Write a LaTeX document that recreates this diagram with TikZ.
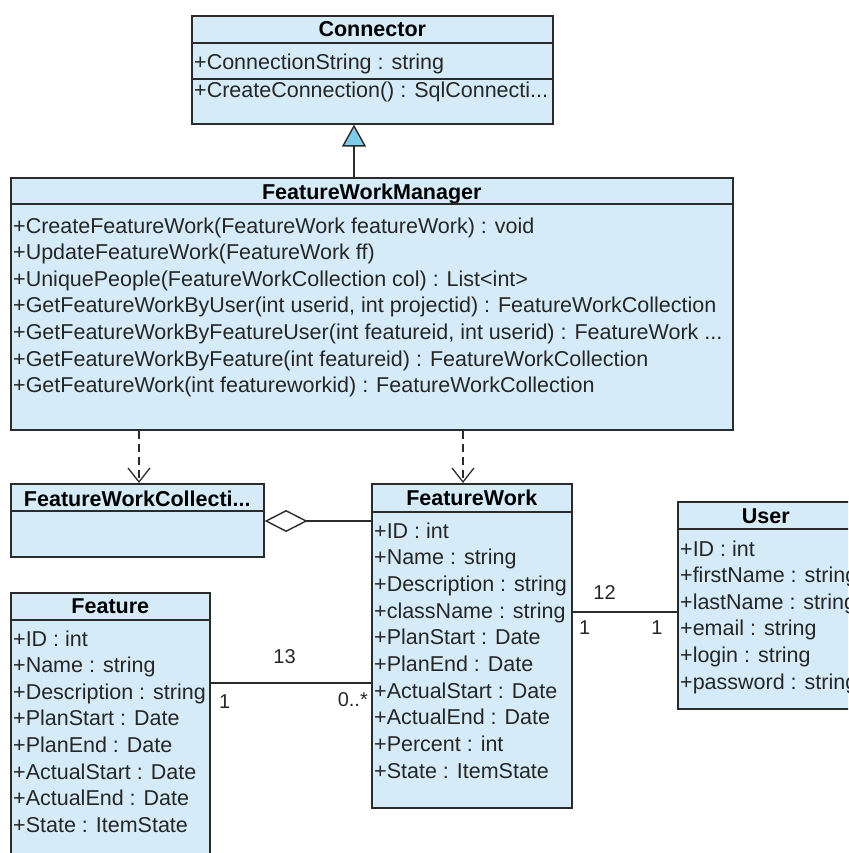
\documentclass[tikz,border=0pt]{standalone}
\usepackage{fontspec}
\setmainfont{Liberation Sans}
\usetikzlibrary{arrows.meta,positioning,calc}
\definecolor{cFill}{HTML}{D5ECF8}
\definecolor{cLine}{HTML}{2B2B2B}
\definecolor{cTri}{HTML}{7FCBEA}
\newcommand{\trunc}{...}
\tikzset{
  cls/.style={draw=cLine,line width=1.6pt,fill=cFill,anchor=north west,inner sep=0pt},
  ttl/.style={font=\fontsize{21.5}{26}\selectfont\bfseries,anchor=base,inner sep=0pt,text=black},
  mbr/.style={font=\fontsize{21.5}{26}\selectfont,anchor=base west,inner sep=0pt,text=black!85},
  mult/.style={font=\fontsize{20}{24}\selectfont,inner sep=0pt,text=black!85},
  sep/.style={draw=cLine,line width=1.6pt},
  gen/.style={-{Triangle[open,fill=cTri,length=22pt,width=24pt]},line width=1.4pt,cLine},
  dep/.style={-{Straight Barb[length=14pt,width=22pt]},line width=1.3pt,cLine,dash pattern=on 8pt off 5pt},
  agg/.style={{Diamond[open,length=43pt,width=22pt]}-,line width=1.4pt,cLine},
  assoc/.style={line width=1.4pt,cLine},
}
\begin{document}
\begin{tikzpicture}[x=1pt,y=1pt]
  \clip (0,0) rectangle (848,-853);
  % Connector
  \node[cls,minimum width=361pt,minimum height=108pt] (conn) at (191,-15) {};
  \node[ttl] (connT) at ($(conn.north)+(0,-22)$) {Connector};
  \draw[sep] ($(conn.north west)+(0,-28)$) -- ($(conn.north east)+(0,-28)$);
  \draw[sep] ($(conn.north west)+(0,-64)$) -- ($(conn.north east)+(0,-64)$);
  \node[mbr] (conn1) at ($(conn.north west)+(3,-55)$) {+ConnectionString : string};
  \node[mbr] (conn2) at ($(conn.north west)+(3,-83)$) {+CreateConnection() : SqlConnecti\trunc};
  % FeatureWorkManager
  \node[cls,minimum width=722pt,minimum height=252pt] (fwm) at (10,-177) {};
  \node[ttl] (fwmT) at ($(fwm.north)+(0,-22)$) {FeatureWorkManager};
  \draw[sep] ($(fwm.north west)+(0,-27)$) -- ($(fwm.north east)+(0,-27)$);
  \foreach \t [count=\i] in {
      {+CreateFeatureWork(FeatureWork featureWork) : void},
      {+UpdateFeatureWork(FeatureWork ff)},
      {+UniquePeople(FeatureWorkCollection col) : List<int>},
      {+GetFeatureWorkByUser(int userid, int projectid) : FeatureWorkCollection},
      {+GetFeatureWorkByFeatureUser(int featureid, int userid) : FeatureWork \trunc},
      {+GetFeatureWorkByFeature(int featureid) : FeatureWorkCollection},
      {+GetFeatureWork(int featureworkid) : FeatureWorkCollection}}{
    \pgfmathsetmacro{\yy}{-56-26.6*(\i-1)}
    \node[mbr] (fwm\i) at ($(fwm.north west)+(3,\yy)$) {\t};
  }
  % FeatureWorkCollection
  \node[cls,minimum width=253pt,minimum height=73pt] (fwc) at (10,-483) {};
  \node[ttl] (fwcT) at ($(fwc.north)+(0,-23)$) {FeatureWorkCollecti\trunc};
  \draw[sep] ($(fwc.north west)+(0,-28)$) -- ($(fwc.north east)+(0,-28)$);
  % FeatureWork
  \node[cls,minimum width=200pt,minimum height=324pt] (fw) at (371,-483) {};
  \node[ttl] (fwT) at ($(fw.north)+(0,-22)$) {FeatureWork};
  \draw[sep] ($(fw.north west)+(0,-29)$) -- ($(fw.north east)+(0,-29)$);
  \foreach \t [count=\i] in {+ID : int,+Name : string,+Description : string,
      +className : string,+PlanStart : Date,+PlanEnd : Date,+ActualStart : Date,
      +ActualEnd : Date,+Percent : int,+State : ItemState}{
    \pgfmathsetmacro{\yy}{-55-26.7*(\i-1)}
    \node[mbr] (fw\i) at ($(fw.north west)+(3,\yy)$) {\t};
  }
  % User
  \node[cls,minimum width=176pt,minimum height=207pt] (user) at (677,-501) {};
  \node[ttl] (userT) at ($(user.north)+(0,-22)$) {User};
  \draw[sep] ($(user.north west)+(0,-28)$) -- ($(user.north east)+(0,-28)$);
  \foreach \t [count=\i] in {+ID : int,+firstName : string,+lastName : string,
      +email : string,+login : string,+password : string}{
    \pgfmathsetmacro{\yy}{-55-26.6*(\i-1)}
    \node[mbr] (user\i) at ($(user.north west)+(3,\yy)$) {\t};
  }
  % Feature
  \node[cls,minimum width=199pt,minimum height=300pt] (feat) at (10,-592) {};
  \node[ttl] (featT) at ($(feat.north)+(0,-21)$) {Feature};
  \draw[sep] ($(feat.north west)+(0,-28)$) -- ($(feat.north east)+(0,-28)$);
  \foreach \t [count=\i] in {+ID : int,+Name : string,+Description : string,
      +PlanStart : Date,+PlanEnd : Date,+ActualStart : Date,+ActualEnd : Date,
      +State : ItemState}{
    \pgfmathsetmacro{\yy}{-54-26.6*(\i-1)}
    \node[mbr] (feat\i) at ($(feat.north west)+(3,\yy)$) {\t};
  }
  % connectors
  \coordinate (genX) at (354,0);
  \coordinate (depL) at (139,0);
  \coordinate (depR) at (463,0);
  \coordinate (aggY) at (0,-521);
  \coordinate (usrY) at (0,-612);
  \coordinate (ftY) at (0,-683);
  \draw[gen] (fwm.north -| genX) -- (conn.south -| genX);
  \draw[dep] (fwm.south -| depL) -- (fwc.north -| depL);
  \draw[dep] (fwm.south -| depR) -- (fw.north -| depR);
  \draw[agg] (fwc.east |- aggY) -- (fw.west |- aggY);
  \draw[assoc] (fw.east |- usrY) -- (user.west |- usrY);
  \draw[assoc] (feat.east |- ftY) -- (fw.west |- ftY);
  \node[mult] (m12) at ($(fw.east |- usrY)+(32,19)$) {12};
  \node[mult] (m1a) at ($(fw.east |- usrY)+(12,-16)$) {1};
  \node[mult] (m1b) at ($(user.west |- usrY)+(-20,-16)$) {1};
  \node[mult] (m13) at ($(feat.east |- ftY)+(74,26)$) {13};
  \node[mult] (m1c) at ($(feat.east |- ftY)+(14,-19)$) {1};
  \node[mult,anchor=east] (m0n) at ($(fw.west |- ftY)+(-3,-17)$) {0..*};
\end{tikzpicture}
\end{document}
